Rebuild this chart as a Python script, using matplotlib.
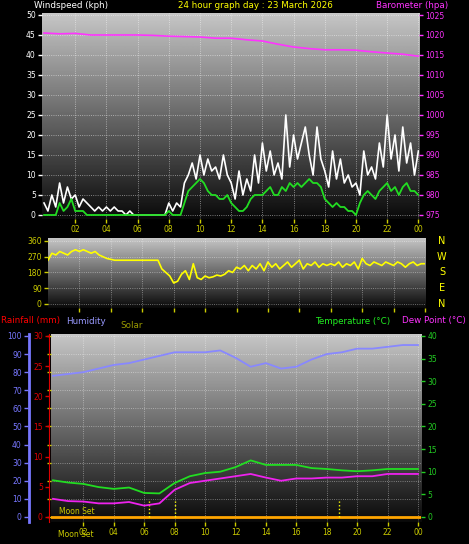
import numpy as np
import matplotlib
matplotlib.use("Agg")
import matplotlib.pyplot as plt

hours_q = np.arange(97) / 4.0
hours_h = np.arange(25)

gust = [3,1,5,2, 8,3,7,4, 5,2,4,3, 2,1,2,1, 2,1,2,1, 1,0,1,0, 0,0,0,0, 0,0,0,0,
        3,1,3,2, 8,10,13,9, 15,10,14,11, 12,9,15,10, 8,4,11,5, 9,6,15,8, 18,11,16,10,
        13,9,25,12, 20,14,18,22, 15,10,22,14, 11,7,16,9, 14,8,10,7, 8,5,16,10,
        12,9,18,12, 25,14,20,11, 22,13,18,10, 16]
avg = [0,0,0,0, 3,1,2,4, 1,1,1,0, 0,0,0,0, 0,0,0,0, 0,0,0,0, 0,0,0,0, 0,0,0,0,
       1,0,0,0, 3,6,7,8, 9,8,6,5, 5,4,4,5, 3,2,1,1, 2,4,5,5, 5,6,7,5, 5,7,6,8,
       7,8,7,8, 9,8,8,7, 4,3,2,3, 2,2,1,1, 0,3,5,6, 5,4,6,7, 8,6,7,5, 7,8,6,6, 5]
baro = [1020.5,1020.3,1020.4,1020.0,1020.0,1020.0,1020.0,1019.9,1019.7,1019.6,1019.5,
        1019.2,1019.2,1018.8,1018.5,1017.7,1017.0,1016.6,1016.3,1016.3,1016.2,1015.8,
        1015.5,1015.2,1014.7]
wdir = [250,290,280,300, 290,280,300,310, 300,310,300,290, 300,280,270,260, 255,250,250,250,
        250,250,250,250, 250,250,250,250, 250,200,180,160, 120,130,170,190, 140,230,150,140,
        160,150,155,165, 160,170,190,180, 210,200,220,190, 220,200,230,190, 240,210,230,200,
        220,240,210,230, 250,200,230,220, 240,210,230,220, 230,220,240,210, 230,220,240,200,
        260,230,220,240, 230,220,240,230, 220,240,230,210, 230,240,220,230, 230]
humidity = [78,79,80,82,84,85,87,89,91,91,91,92,88,83,85,82,83,87,90,91,93,93,94,95,95]
temp = [8.1,7.6,7.3,6.6,6.2,6.5,5.3,5.2,7.5,9.0,9.7,10.0,11.0,12.5,11.5,11.5,11.5,10.8,
        10.6,10.3,10.1,10.3,10.6,10.6,10.6]
dew = [4.0,3.5,3.4,3.0,3.0,3.3,2.5,3.0,6.0,7.5,8.0,8.5,9.0,9.5,8.7,8.0,8.5,8.5,8.7,8.7,
       9.0,9.0,9.5,9.5,9.5]
solar_marks = [6.3, 8.0, 18.8]
hour_labels = ["02","04","06","08","10","12","14","16","18","20","22","00"]

W, H = 469, 544
fig = plt.figure(figsize=(W/100, H/100), dpi=100, facecolor="black")

def ax_px(x0, y0, x1, y1):
    return fig.add_axes([x0/W, 1-y1/H, (x1-x0)/W, (y1-y0)/H])

grad = np.linspace(0, 1, 256).reshape(-1, 1)
def background(ax):
    ax.imshow(grad, cmap="gray", vmin=-0.05, vmax=1.3, aspect="auto",
              extent=[0, 1, 0, 1], transform=ax.transAxes, zorder=0, origin="lower")
    ax.set_facecolor("black")

def style(ax, col):
    for s in ax.spines.values():
        s.set_visible(False)
    ax.tick_params(colors=col, labelsize=5.5, length=3, width=1, pad=1.5)

fs = 6.3
# ---------- top panel ----------
ax1 = ax_px(42, 13, 419, 219)
background(ax1)
ax1.set_xlim(-0.13, 24.04)
ax1.set_ylim(-1.0, 50.5)
ax1.plot(hours_q, gust, color="white", lw=1.2, zorder=3)
ax1.plot(hours_q, avg, color="#22dd22", lw=1.3, zorder=4)
ax1.set_yticks(range(0, 51, 5))
ax1.set_xticks(range(2, 25, 2))
ax1.set_xticklabels(hour_labels)
ax1.grid(color="white", ls=":", lw=0.6, alpha=0.6)
style(ax1, "white")
ax1.tick_params(axis="x", colors="#cccc00")
ax1b = ax1.twinx()
ax1b.set_ylim(975 - 1.0, 975 + 50.5)
ax1b.plot(hours_h, baro, color="#ff33ff", lw=1.2)
ax1b.set_yticks(range(975, 1026, 5))
style(ax1b, "#ff33ff")
fig.text(34/W, 1-5/H, "Windspeed (kph)", color="white", fontsize=fs, va="center")
fig.text(255/W, 1-5/H, "24 hour graph day : 23 March 2026", color="yellow", fontsize=fs, va="center", ha="center")
fig.text(448/W, 1-5/H, "Barometer (hpa)", color="#ff33ff", fontsize=fs, va="center", ha="right")

# ---------- middle panel ----------
ax2 = ax_px(48, 238, 425, 308)
background(ax2)
ax2.set_xlim(0, 24)
ax2.set_ylim(-23, 377)
ax2.plot(hours_q, wdir, color="yellow", lw=1.2, zorder=3)
ax2.set_yticks([0, 90, 180, 270, 360])
ax2.set_xticks(range(2, 25, 2))
ax2.set_xticklabels([])
ax2.tick_params(axis="x", length=0)
ax2.grid(color="white", ls=":", lw=0.6, alpha=0.5)
style(ax2, "#cccc00")
for v, lab in zip([360, 270, 180, 90, 0], ["N", "W", "S", "E", "N"]):
    ax2.text(1.045, (v + 23) / 400, lab, transform=ax2.transAxes, color="yellow",
             fontsize=7, ha="center", va="center")

# ---------- bottom panel ----------
fig.text(1/W, 1-321/H, "Rainfall (mm)", color="red", fontsize=fs, va="center")
fig.text(66/W, 1-321/H, "Humidity", color="#9999ff", fontsize=fs, va="center")
fig.text(120/W, 1-326/H, "Solar", color="#999900", fontsize=fs, va="center")
fig.text(315/W, 1-321/H, "Temperature (°C)", color="#22ee22", fontsize=fs, va="center")
fig.text(466/W, 1-321/H, "Dew Point (°C)", color="#ff33ff", fontsize=fs, va="center", ha="right")

ax3 = ax_px(51, 334, 421, 522)
background(ax3)
ax3.set_xlim(-0.13, 24.2)
ax3.set_ylim(-2.8, 101.1)
ax3.plot(hours_h, humidity, color="#8888ff", lw=1.3, zorder=3)
ax3.axhline(0, color="orange", lw=2, zorder=4)
for m in solar_marks:
    ax3.plot([m, m], [0, 9], color="yellow", ls=":", lw=1, zorder=4)
ax3.text(0.4, 0.4, "Moon Set", color="#cccc00", fontsize=5.5, va="bottom", zorder=5)
ax3.set_xticks(range(2, 25, 2))
ax3.set_xticklabels(hour_labels)
ax3.set_yticks(range(0, 101, 10))
ax3.set_yticklabels([])
ax3.tick_params(axis="y", length=0)
ax3.grid(color="white", ls=":", lw=0.6, alpha=0.5)
style(ax3, "#cccc00")
ax3.text(0.02, -0.045, "Moon Set", transform=ax3.transAxes, color="#cccc00", fontsize=5.5, va="top")
# temperature axis
ax3t = ax3.twinx()
ax3t.set_ylim(-2.8 * 0.4, 101.1 * 0.4)
ax3t.plot(hours_h, temp, color="#22dd22", lw=1.3)
ax3t.plot(hours_h, dew, color="#ee22ee", lw=1.3)
ax3t.set_yticks(range(0, 41, 5))
style(ax3t, "#22cc22")
# humidity axis (outer left)
axh = ax_px(28, 334, 29, 522)
axh.set_ylim(-2.8, 101.1)
axh.set_xticks([])
axh.set_yticks(range(0, 101, 10))
axh.patch.set_visible(False)
style(axh, "#7777ff")
axh.spines["right"].set_visible(True)
axh.spines["right"].set_color("#7777ff")
axh.spines["right"].set_linewidth(2)
# rain axis (inner left)
axr = ax_px(49, 334, 50, 522)
axr.set_ylim(-2.8 * 0.3, 101.1 * 0.3)
axr.set_xticks([])
axr.set_yticks(range(0, 31, 5))
axr.patch.set_visible(False)
style(axr, "#dd0000")
axr.spines["left"].set_visible(True)
axr.spines["left"].set_color("#dd0000")

fig.savefig("out.png", dpi=100, facecolor="black")
